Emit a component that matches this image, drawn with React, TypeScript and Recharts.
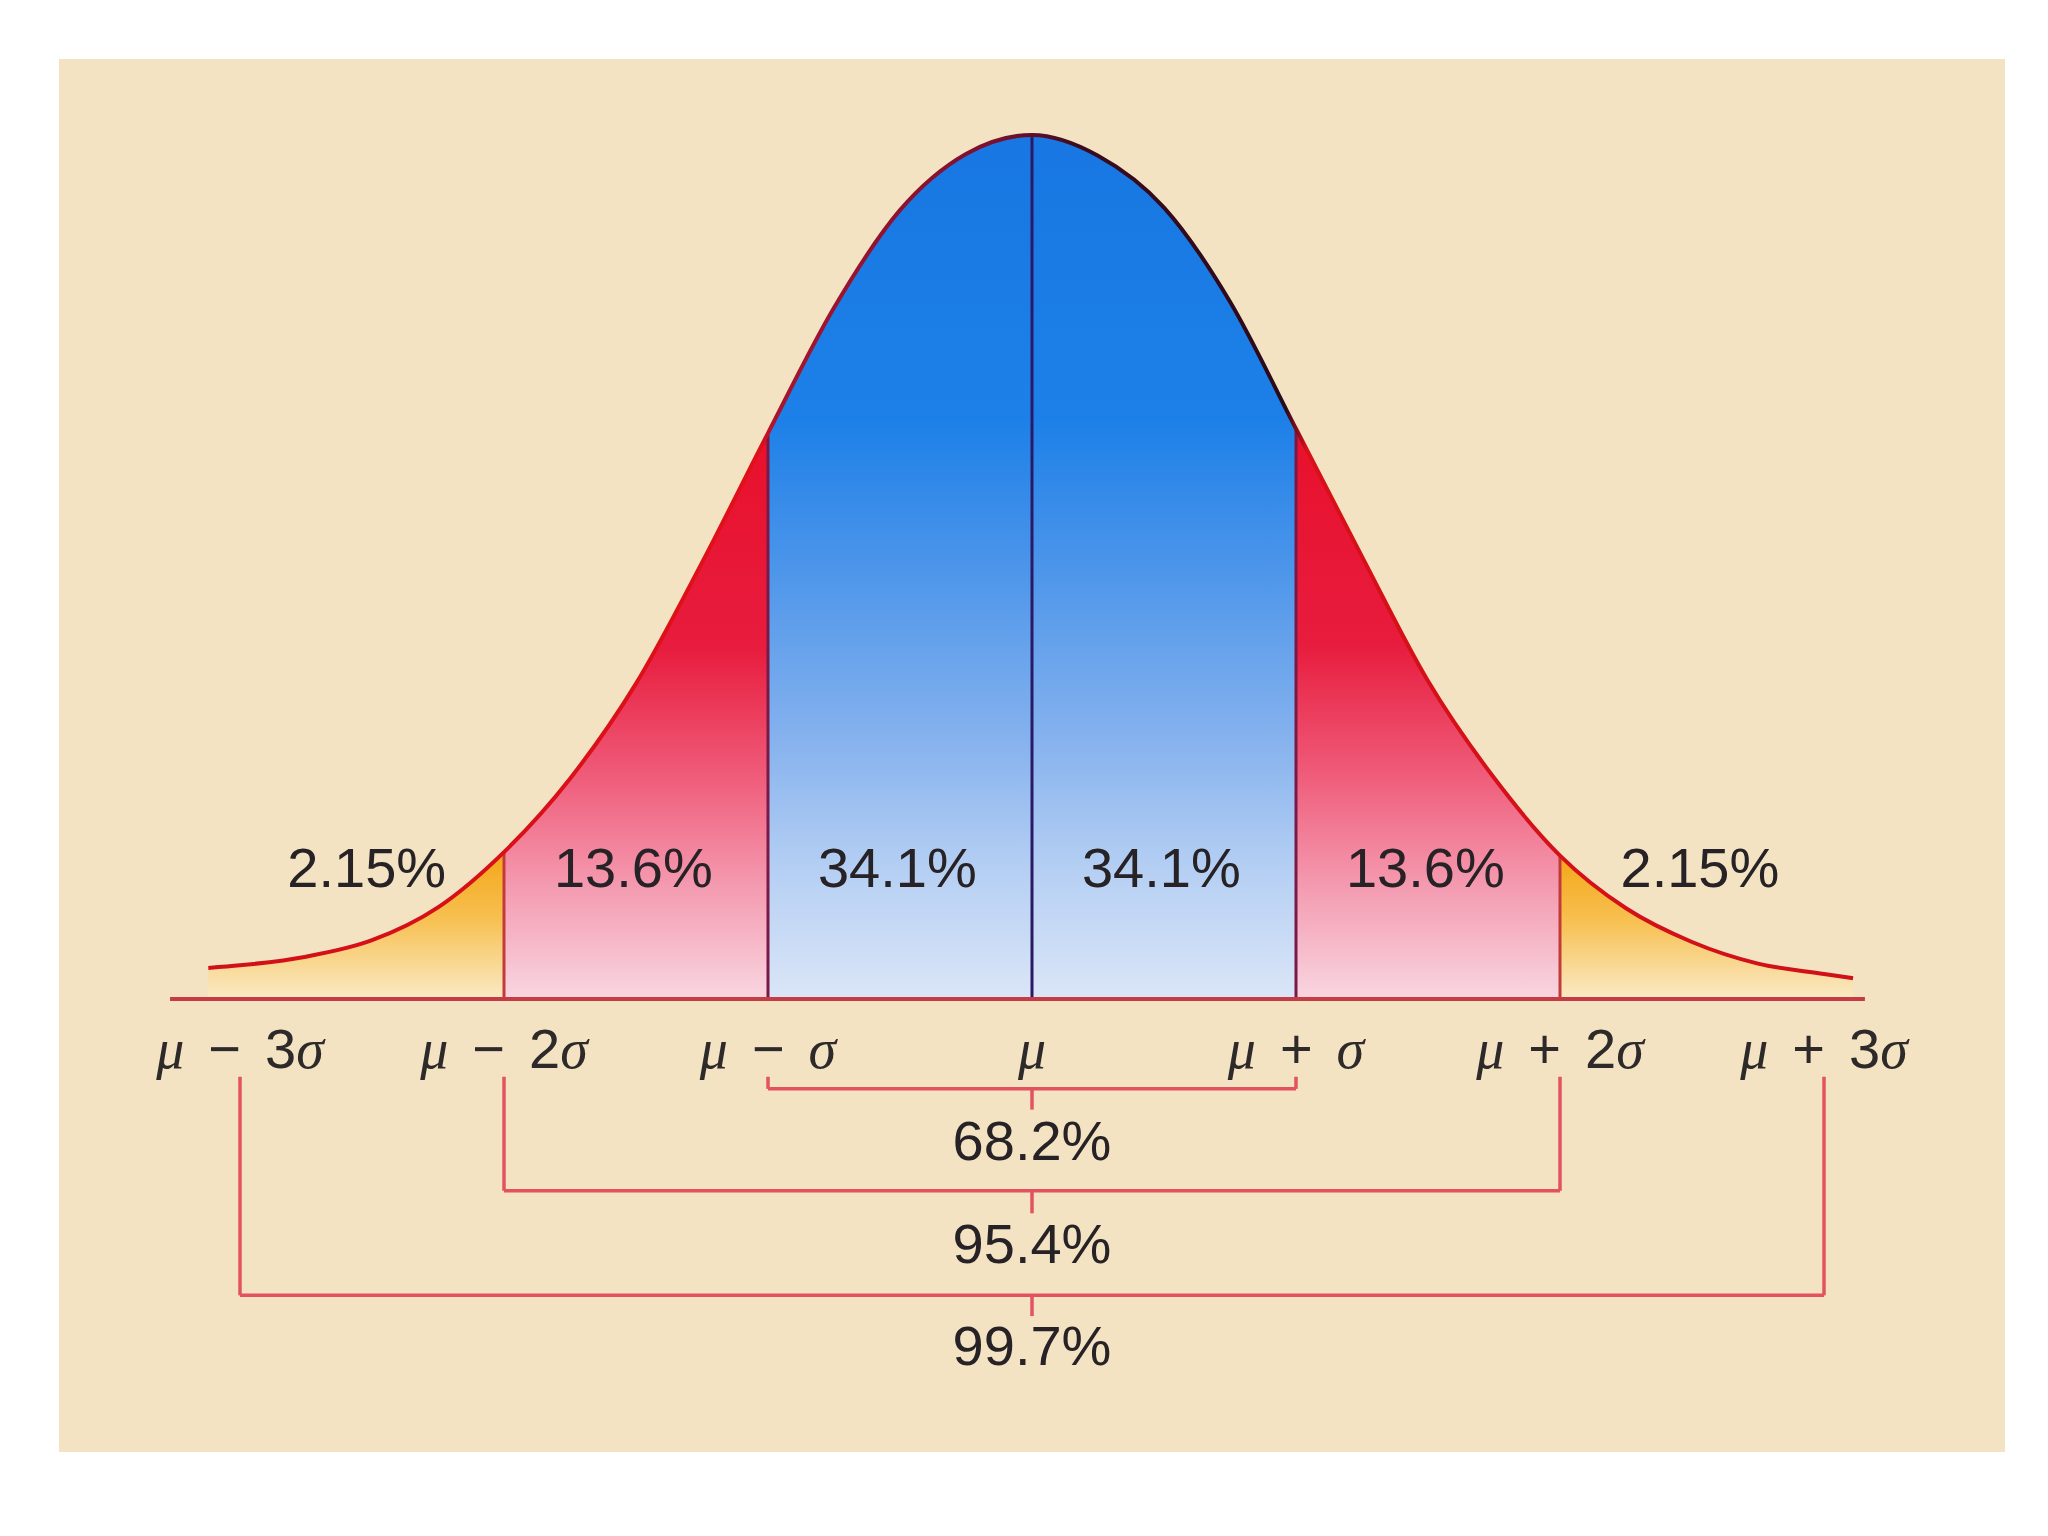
import React from "react";
import {
  Area,
  ComposedChart,
  Line,
  ReferenceDot,
  ReferenceLine,
  XAxis,
  YAxis,
} from "recharts";

// curve, in sigma units (x) and share of peak height (y)
const SIGMA_STEPS = [
  -3.12, -3, -2.75, -2.5, -2.25, -2, -1.75, -1.5, -1.25, -1, -0.75, -0.5, -0.25,
  0, 0.25, 0.5, 0.75, 1, 1.25, 1.5, 1.75, 2, 2.25, 2.5, 2.75, 3, 3.11,
];
const DENSITY = [
  0.036, 0.039, 0.049, 0.068, 0.106, 0.17, 0.255, 0.365, 0.505, 0.655, 0.8,
  0.913, 0.978, 1, 0.976, 0.916, 0.807, 0.66, 0.512, 0.368, 0.256, 0.166,
  0.105, 0.066, 0.041, 0.029, 0.024,
];

const BOUNDARIES = [-2, -1, 0, 1, 2];
const REGION_CENTERS = [-2.52, -1.51, -0.51, 0.49, 1.49, 2.53];
const REGION_SHARES = ["2.15%", "13.6%", "34.1%", "34.1%", "13.6%", "2.15%"];

const TICK_SIGMAS = [-3, -2, -1, 0, 1, 2, 3];
const TICK_LABELS = ["μ − 3σ", "μ − 2σ", "μ − σ", "μ", "μ + σ", "μ + 2σ", "μ + 3σ"];

const RANGE_SPANS = [1, 2, 3];
const RANGE_SHARES = ["68.2%", "95.4%", "99.7%"];

// layout (y in chart units below the baseline)
const BRACKET_TOP = -0.09;
const BRACKET_ROWS = [
  { bar: -0.104, tick: -0.128, text: -0.186 },
  { bar: -0.222, tick: -0.248, text: -0.306 },
  { bar: -0.343, tick: -0.367, text: -0.424 },
];
const AXIS_FROM = -3.265;
const AXIS_TO = 3.155;

const SANS = "'Liberation Sans', Arial, sans-serif";
const SERIF = "'Liberation Serif', 'Times New Roman', serif";

const inRange = (x: number, lo: number, hi: number, d: number) =>
  x >= lo && x <= hi ? d : null;

const rows = SIGMA_STEPS.map((x, i) => {
  const d = DENSITY[i];
  return {
    x,
    density: d,
    tailL: inRange(x, -10, -2, d),
    midL: inRange(x, -2, -1, d),
    core: inRange(x, -1, 1, d),
    midR: inRange(x, 1, 2, d),
    tailR: inRange(x, 2, 10, d),
  };
});

const densityAt = (x: number) => DENSITY[SIGMA_STEPS.indexOf(x)];

function PercentText({ cx, cy, value }: any) {
  return (
    <text
      x={cx}
      y={cy}
      textAnchor="middle"
      fontFamily={SANS}
      fontSize={56}
      fill="#272225"
    >
      {value}
    </text>
  );
}

function SigmaLabel({ cx, cy, value }: any) {
  const parts = value.split(" ");
  return (
    <text x={cx} y={cy} textAnchor="middle" fontSize={56} fill="#2e2a2a">
      {parts.map((part: string, i: number) =>
        part.split("").map((ch, j) => {
          const greek = ch === "μ" || ch === "σ";
          return (
            <tspan
              key={`${i}-${j}`}
              dx={i > 0 && j === 0 ? 24 : 0}
              fontFamily={greek ? SERIF : SANS}
              fontStyle={greek ? "italic" : "normal"}
            >
              {ch}
            </tspan>
          );
        })
      )}
    </text>
  );
}

export default function App() {
  return (
    <div
      style={{
        position: "absolute",
        left: 0,
        top: 0,
        width: 2048,
        height: 1536,
        background: "#ffffff",
      }}
    >
      <div
        style={{
          position: "absolute",
          left: 59,
          top: 59,
          width: 1946,
          height: 1393,
          background: "#f3e3c3",
        }}
      />
      <div style={{ position: "absolute", left: 0, top: 0 }}>
        <ComposedChart
          width={2048}
          height={1536}
          data={rows}
          margin={{ top: 48.6, right: 92, bottom: 105, left: 108 }}
        >
          <defs>
            <linearGradient id="fillTail" x1="0" y1="0" x2="0" y2="1">
              <stop offset="0" stopColor="#f4a618" />
              <stop offset="0.45" stopColor="#f7c050" />
              <stop offset="1" stopColor="#faeac6" />
            </linearGradient>
            <linearGradient id="fillMid" x1="0" y1="0" x2="0" y2="1">
              <stop offset="0" stopColor="#e8102c" />
              <stop offset="0.38" stopColor="#e81c3e" />
              <stop offset="0.6" stopColor="#ef5a78" />
              <stop offset="0.8" stopColor="#f49ab0" />
              <stop offset="1" stopColor="#f8d6e0" />
            </linearGradient>
            <linearGradient id="fillCore" x1="0" y1="0" x2="0" y2="1">
              <stop offset="0" stopColor="#1877e2" />
              <stop offset="0.33" stopColor="#1d80e8" />
              <stop offset="0.5" stopColor="#4c95ea" />
              <stop offset="0.7" stopColor="#86b2ee" />
              <stop offset="0.85" stopColor="#b5cff3" />
              <stop offset="1" stopColor="#dbe6f7" />
            </linearGradient>
            <linearGradient id="curveStroke" x1="0" y1="0" x2="1" y2="0">
              <stop offset="0" stopColor="#d01018" />
              <stop offset="0.335" stopColor="#e01018" />
              <stop offset="0.345" stopColor="#a8142e" />
              <stop offset="0.48" stopColor="#7a1030" />
              <stop offset="0.53" stopColor="#3a0c20" />
              <stop offset="0.655" stopColor="#2a0a1a" />
              <stop offset="0.668" stopColor="#d81018" />
              <stop offset="1" stopColor="#d01018" />
            </linearGradient>
          </defs>
          <XAxis
            dataKey="x"
            type="number"
            domain={[-3.5, 3.5]}
            allowDataOverflow
            hide
          />
          <YAxis type="number" domain={[-0.5, 1.1]} allowDataOverflow hide />

          <Area dataKey="tailL" type="monotone" baseValue={0} fill="url(#fillTail)" fillOpacity={1} stroke="none" isAnimationActive={false} />
          <Area dataKey="midL" type="monotone" baseValue={0} fill="url(#fillMid)" fillOpacity={1} stroke="none" isAnimationActive={false} />
          <Area dataKey="core" type="monotone" baseValue={0} fill="url(#fillCore)" fillOpacity={1} stroke="none" isAnimationActive={false} />
          <Area dataKey="midR" type="monotone" baseValue={0} fill="url(#fillMid)" fillOpacity={1} stroke="none" isAnimationActive={false} />
          <Area dataKey="tailR" type="monotone" baseValue={0} fill="url(#fillTail)" fillOpacity={1} stroke="none" isAnimationActive={false} />

          {BOUNDARIES.map((b) => (
            <ReferenceLine
              key={`edge-${b}`}
              segment={[
                { x: b, y: 0 },
                { x: b, y: densityAt(b) },
              ]}
              stroke={b === 0 ? "#2a1a66" : Math.abs(b) === 1 ? "#7a1848" : "#c23a3a"}
              strokeWidth={3}
              ifOverflow="visible"
            />
          ))}

          <Line
            dataKey="density"
            type="monotone"
            stroke="url(#curveStroke)"
            strokeWidth={4}
            dot={false}
            activeDot={false}
            isAnimationActive={false}
          />

          <ReferenceLine
            segment={[
              { x: AXIS_FROM, y: 0 },
              { x: AXIS_TO, y: 0 },
            ]}
            stroke="#c63c44"
            strokeWidth={4}
            ifOverflow="visible"
          />

          {RANGE_SPANS.map((s, i) => {
            const row = BRACKET_ROWS[i];
            return [
              <ReferenceLine
                key={`bl-${s}`}
                segment={[{ x: -s, y: BRACKET_TOP }, { x: -s, y: row.bar }]}
                stroke="#e25260"
                strokeWidth={3.5}
                ifOverflow="visible"
              />,
              <ReferenceLine
                key={`br-${s}`}
                segment={[{ x: s, y: BRACKET_TOP }, { x: s, y: row.bar }]}
                stroke="#e25260"
                strokeWidth={3.5}
                ifOverflow="visible"
              />,
              <ReferenceLine
                key={`bh-${s}`}
                segment={[{ x: -s, y: row.bar }, { x: s, y: row.bar }]}
                stroke="#e25260"
                strokeWidth={3.5}
                ifOverflow="visible"
              />,
              <ReferenceLine
                key={`bt-${s}`}
                segment={[{ x: 0, y: row.bar }, { x: 0, y: row.tick }]}
                stroke="#e25260"
                strokeWidth={3.5}
                ifOverflow="visible"
              />,
              <ReferenceDot
                key={`bp-${s}`}
                x={0}
                y={row.text}
                r={0}
                ifOverflow="visible"
                shape={(p: any) => <PercentText {...p} value={RANGE_SHARES[i]} />}
              />,
            ];
          })}

          {REGION_CENTERS.map((c, i) => (
            <ReferenceDot
              key={`rp-${i}`}
              x={c}
              y={0.13}
              r={0}
              ifOverflow="visible"
              shape={(p: any) => <PercentText {...p} value={REGION_SHARES[i]} />}
            />
          ))}

          {TICK_SIGMAS.map((t, i) => (
            <ReferenceDot
              key={`tk-${t}`}
              x={t}
              y={-0.08}
              r={0}
              ifOverflow="visible"
              shape={(p: any) => <SigmaLabel {...p} value={TICK_LABELS[i]} />}
            />
          ))}
        </ComposedChart>
      </div>
    </div>
  );
}
